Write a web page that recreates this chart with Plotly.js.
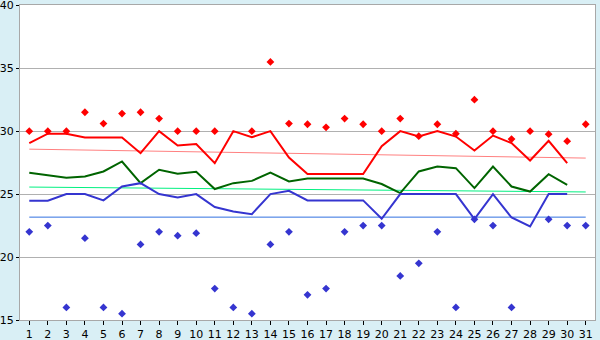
<!DOCTYPE html>
<html>
<head>
<meta charset="utf-8">
<script src="https://cdn.plot.ly/plotly-3.0.1.min.js"></script>
<style>html,body{margin:0;padding:0;background:#d9eff5;}#chart{width:600px;height:340px;}</style>
</head>
<body>
<div id="chart"></div>
<script>
const days = [1,2,3,4,5,6,7,8,9,10,11,12,13,14,15,16,17,18,19,20,21,22,23,24,25,26,27,28,29,30,31];
const maxPoints = [30,30,30,31.5,30.6,31.4,31.5,31,30,30,30,null,30,35.5,30.6,30.55,30.3,31,30.55,30,31,29.6,30.55,29.8,32.5,30,29.37,30,29.76,29.2,30.55];
const minPoints = [22,22.5,16,21.5,16,15.5,21,22,21.7,21.9,17.5,16,15.5,21,22,17,17.5,22,22.5,22.5,18.5,19.5,22,16,23,22.5,16,null,23,22.5,22.5];
const maxLine = [29.05,29.8,29.8,29.5,29.5,29.5,28.25,30,28.86,28.97,27.46,30,29.52,30,27.9,26.6,26.6,26.6,26.6,28.8,30,29.57,30,29.57,28.46,29.65,29.05,27.67,29.23,27.46,null];
const avgLine = [26.7,26.48,26.3,26.4,26.8,27.59,25.87,26.93,26.61,26.77,25.4,25.87,26.05,26.7,26.0,26.24,26.24,26.24,26.24,25.8,25.08,26.8,27.19,27.06,25.48,27.19,25.6,25.2,26.58,25.74,null];
const minLine = [24.47,24.47,25,25,24.5,25.6,25.87,25,24.73,25,23.97,23.62,23.41,25,25.26,24.5,24.5,24.5,24.5,23.04,25,25,25,25,23.02,25,23.14,22.43,25,25,null];
const trendDays = [1,31];
const maxTrend = [28.57,27.86];
const avgTrend = [25.56,25.17];
const minTrend = [23.17,23.17];
const yTicks = [15,20,25,30,35,40];

const traces = [
  {x: trendDays, y: maxTrend, mode:'lines', line:{color:'#ff8080', width:1}},
  {x: trendDays, y: avgTrend, mode:'lines', line:{color:'#00f080', width:1}},
  {x: trendDays, y: minTrend, mode:'lines', line:{color:'#3070e0', width:1}},
  {x: days, y: avgLine, mode:'lines', line:{color:'#006400', width:2}},
  {x: days, y: maxLine, mode:'lines', line:{color:'#ff0000', width:2}},
  {x: days, y: minLine, mode:'lines', line:{color:'#3535d0', width:2}},
  {x: days, y: maxPoints, mode:'markers', marker:{symbol:'diamond', size:6, color:'#ff0000'}},
  {x: days, y: minPoints, mode:'markers', marker:{symbol:'diamond', size:6, color:'#3535d0'}}
];

const layout = {
  width:600, height:340,
  margin:{l:20, r:5, t:5, b:20},
  paper_bgcolor:'#d9eff5',
  plot_bgcolor:'#ffffff',
  showlegend:false,
  hovermode:false,
  font:{family:'DejaVu Sans', size:11, color:'#000'},
  xaxis:{range:[0.5,31.5], tickvals:days, ticktext:days.map(String), ticks:'outside', ticklen:4, tickcolor:'#000',
         showgrid:false, zeroline:false, showline:true, linecolor:'#a8a8a8', linewidth:1, mirror:true,
         tickfont:{family:'DejaVu Sans', size:11}},
  yaxis:{range:[15,40.02], tickvals:yTicks, ticks:'outside', ticklen:3, tickcolor:'#000', ticklabeloverflow:'allow',
         showgrid:true, gridcolor:'#b0b0b0', zeroline:false, showline:true, linecolor:'#a8a8a8', linewidth:1, mirror:true,
         tickfont:{family:'DejaVu Sans', size:11}}
};
Plotly.newPlot('chart', traces, layout, {staticPlot:true, displayModeBar:false});
</script>
</body>
</html>
